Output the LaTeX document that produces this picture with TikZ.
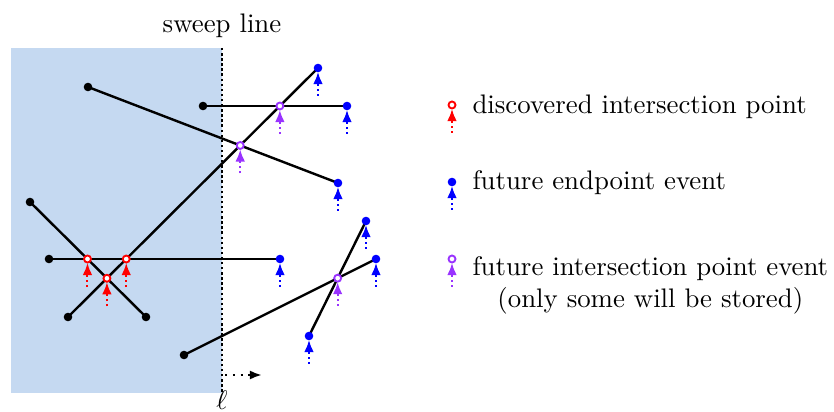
\documentclass[tikz,border=0pt]{standalone}
\usetikzlibrary{arrows.meta, calc}
\definecolor{SweptBlue}{RGB}{197,217,241}
\definecolor{EventPurple}{HTML}{9933FF}

\begin{document}
\begin{tikzpicture}[x=0.0131cm, y=-0.0131cm, >=Latex,
        segline/.style={line width=0.9pt, black},
        oldpt/.style={circle, fill=black, inner sep=0pt, minimum size=3.2pt},
        endpt/.style={circle, fill=blue, inner sep=0pt, minimum size=3.2pt},
        crosspt/.style={circle, draw=#1, fill=white, line width=0.7pt, inner sep=0pt, minimum size=2.6pt},
        stem/.style={#1, line width=0.75pt, dash pattern=on 0.75pt off 1.2pt, -{Latex[length=4.5pt,width=3.6pt]}},
        legendtext/.style={anchor=base west, inner sep=0pt}]
    \useasboundingbox (0,0) rectangle (834,412);

    % swept region and sweep line
    \fill[SweptBlue] (11,48) rectangle (222,393);
    \coordinate (sweeptop) at (222,48);
    \coordinate (sweepbot) at (222,393);
    \draw[line width=0.9pt, densely dotted] (sweeptop) -- (sweepbot);
    \node[anchor=base] (sweeplabel) at (222,33) {sweep line};
    \node[anchor=base] (elllabel) at (222,410) {$\ell$};
    \coordinate (movefrom) at (225,375);
    \coordinate (moveto) at (262,375);
    \draw[line width=0.9pt, dotted, -{Latex[length=4.5pt,width=3.4pt]}] (movefrom) -- (moveto);

    % segment endpoints
    \coordinate (a1) at (88,87);   \coordinate (a2) at (338,183);
    \coordinate (b1) at (203,106); \coordinate (b2) at (347,106);
    \coordinate (c1) at (68,317);  \coordinate (c2) at (318,68);
    \coordinate (d1) at (30,202);  \coordinate (d2) at (146,317);
    \coordinate (e1) at (49,259);  \coordinate (e2) at (280,259);
    \coordinate (f1) at (184,355); \coordinate (f2) at (376,259);
    \coordinate (g1) at (309,336); \coordinate (g2) at (366,221);

    % intersection points
    \coordinate (x1) at (intersection of d1--d2 and e1--e2);
    \coordinate (x2) at (intersection of c1--c2 and e1--e2);
    \coordinate (x3) at (intersection of c1--c2 and d1--d2);
    \coordinate (x4) at (intersection of b1--b2 and c1--c2);
    \coordinate (x5) at (intersection of a1--a2 and c1--c2);
    \coordinate (x6) at (intersection of f1--f2 and g1--g2);

    \foreach \s in {a,b,c,d,e,f,g}
        \draw[segline] (\s1) -- (\s2);

    % event markers
    \foreach \p/\c in {x1/red, x2/red, x3/red, x4/EventPurple, x5/EventPurple, x6/EventPurple,
                       a2/blue, b2/blue, c2/blue, e2/blue, f2/blue, g1/blue, g2/blue}
        \draw[stem=\c] ($(\p)+(0,28)$) -- ($(\p)+(0,4)$);

    \foreach \p in {a1, b1, c1, d1, d2, e1, f1}
        \node[oldpt] (dot\p) at (\p) {};
    \foreach \p in {a2, b2, c2, e2, f2, g1, g2}
        \node[endpt] (dot\p) at (\p) {};
    \foreach \p in {x1, x2, x3}
        \node[crosspt=red] (dot\p) at (\p) {};
    \foreach \p in {x4, x5, x6}
        \node[crosspt=EventPurple] (dot\p) at (\p) {};

    % legend
    \node[crosspt=red] (keyfound) at (452,105) {};
    \node[endpt] (keyend) at (452,182) {};
    \node[crosspt=EventPurple] (keycross) at (452,259) {};
    \draw[stem=red] ($(keyfound)+(0,28)$) -- ($(keyfound)+(0,4)$);
    \draw[stem=blue] ($(keyend)+(0,28)$) -- ($(keyend)+(0,4)$);
    \draw[stem=EventPurple] ($(keycross)+(0,28)$) -- ($(keycross)+(0,4)$);
    \node[legendtext] (keyfoundtext) at (472,114) {discovered intersection point};
    \node[legendtext] (keyendtext) at (472,190) {future endpoint event};
    \node[legendtext, align=center] (keycrosstext) at (472,308) {future intersection point event\\(only some will be stored)};
\end{tikzpicture}
\end{document}
